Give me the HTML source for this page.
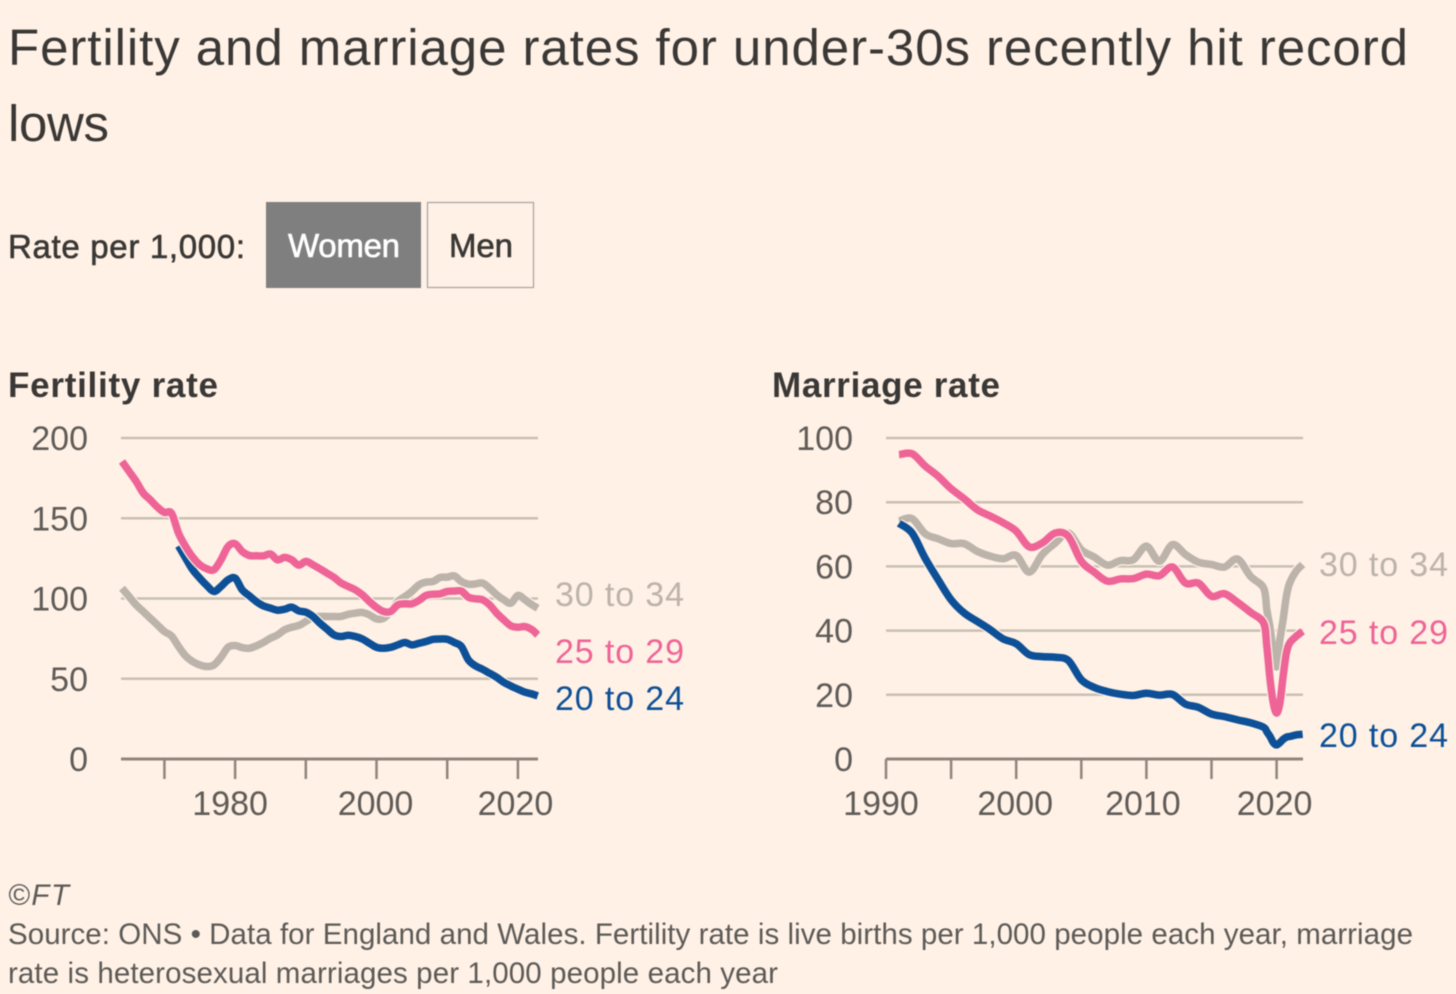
<!DOCTYPE html>
<html lang="en">
<head>
<meta charset="utf-8">
<title>Fertility and marriage rates</title>
<style>
html,body{margin:0;padding:0;background:#fff1e5;}
svg{display:block;font-family:"Liberation Sans",sans-serif;filter:blur(0.4px);}
.tick-label{font-size:34px;fill:#5f5b58;}
.series-label{font-size:34px;}
.line{fill:none;stroke-linejoin:round;stroke-linecap:butt;stroke-width:7.5;}
.halo{fill:none;stroke:#fff1e5;stroke-width:10;stroke-linejoin:round;}
</style>
</head>
<body>
<svg id="chart" width="1456" height="994" viewBox="0 0 1456 994" xmlns="http://www.w3.org/2000/svg">
<rect x="0" y="0" width="1456" height="994" fill="#fff1e5"/>
<g font-size="51" fill="#3a3836">
<text x="8" y="65" textLength="1400" lengthAdjust="spacing">Fertility and marriage rates for under-30s recently hit record</text>
<text x="8" y="141" textLength="101" lengthAdjust="spacing">lows</text>
</g>
<text x="8" y="258" font-size="33" fill="#3a3836" stroke="#3a3836" stroke-width="0.6" textLength="237" lengthAdjust="spacing">Rate per 1,000:</text>
<g>
<rect x="266" y="202" width="155" height="86" fill="#807f7f"/>
<text x="288" y="257" font-size="33" fill="#fff" stroke="#fff" stroke-width="0.6" textLength="112" lengthAdjust="spacing">Women</text>
</g>
<g>
<rect x="427.5" y="202.5" width="106" height="85" fill="none" stroke="#a5a3a1" stroke-width="1.2"/>
<text x="449" y="257" font-size="33" fill="#3a3836" stroke="#3a3836" stroke-width="0.6" textLength="64" lengthAdjust="spacing">Men</text>
</g>
<text x="8" y="397" font-size="35" font-weight="bold" fill="#3a3836" textLength="210" lengthAdjust="spacing">Fertility rate</text>
<text x="772" y="397" font-size="35" font-weight="bold" fill="#3a3836" textLength="228" lengthAdjust="spacing">Marriage rate</text>
<g id="fertility-panel"></g>
<g id="marriage-panel"></g>
<g font-size="29.5" fill="#5c5a58">
<text x="8" y="905" font-style="italic" textLength="61" lengthAdjust="spacing">©FT</text>
<text x="8" y="944" textLength="1405" lengthAdjust="spacing">Source: ONS • Data for England and Wales. Fertility rate is live births per 1,000 people each year, marriage</text>
<text x="8" y="983" textLength="770" lengthAdjust="spacing">rate is heterosexual marriages per 1,000 people each year</text>
</g>
</svg>
<script>
const fertilityYears = [1964,1965,1966,1967,1968,1969,1970,1971,1972,1973,1974,1975,1976,1977,1978,1979,1980,1981,1982,1983,1984,1985,1986,1987,1988,1989,1990,1991,1992,1993,1994,1995,1996,1997,1998,1999,2000,2001,2002,2003,2004,2005,2006,2007,2008,2009,2010,2011,2012,2013,2014,2015,2016,2017,2018,2019,2020,2021,2022,2022.8];
const fertility2529 = [185.4,179.2,173,165.7,161.5,157,153.6,153.2,140.7,132.4,125.8,121,118.5,117.9,124.1,132.4,134.1,129.3,126.8,126.6,126.6,127.7,124.1,125.6,124.1,120.8,123.1,121,118.5,115.8,113.1,109.6,107.5,105.4,102.3,98.1,94.4,91.9,91.9,96,96.7,96.7,98.8,101.9,102.7,102.9,104.4,104.6,104.6,100.8,99.8,99.2,96,90.9,86.7,83,82.1,82.5,80.5,77.3];
const fertility2024 = [null,null,null,null,null,null,null,null,132.8,125.2,117.9,112.7,108.1,104.4,107.5,111.6,112.7,105.4,101.7,98.1,95.4,94,92.7,93.3,94.6,92.3,91.5,88.8,84.6,80.9,77.3,76.3,77.1,76.3,74.8,72.1,69.6,69,69.6,71.1,72.6,71.1,72.1,73.2,74.6,74.8,74.6,72.6,70.1,61.7,58,55.9,53.4,50.9,47.8,45.5,43.5,41.6,40.5,39.3];
const fertility3034 = [106.4,101.2,96,91.9,87.7,83.6,79.4,76.7,70.1,64.2,60.7,58.6,57.6,58.6,63.4,69.6,70.7,69.4,69,70.5,72.6,75.3,77.3,80.5,82.1,83.2,85.7,88.4,88.8,88.8,88.8,88.8,90.2,90.9,91.3,89.8,87.3,87.7,91.9,98.1,101.2,104.4,108.5,110.2,110.6,113.1,113.3,114.1,110.6,108.9,109.1,109.6,106.4,102.3,99.2,97.1,101.9,99.2,96,94];
const fertilityYTicks = [0,50,100,150,200];
const fertilityXTicks = [1970,1980,1990,2000,2010,2020];
const fertilityXLabels = [1980,2000,2020];

const marriageYears = [1991,1992,1993,1994,1995,1996,1997,1998,1999,2000,2001,2002,2003,2004,2005,2006,2007,2008,2009,2010,2011,2012,2013,2014,2015,2016,2017,2018,2019,2019.25,2019.5,2019.75,2020,2020.25,2020.5,2020.75,2021,2021.5,2022];
const marriage2529 = [94.8,95.1,91.3,88.1,84.2,81.1,77.7,75.7,73.6,71,66.1,67.3,70.4,69.4,61.6,58.2,55.4,56.1,56.2,57.6,57.1,59.8,54.8,54.8,50.7,51.5,48.8,45.7,42.4,35.1,24.7,17.4,14.3,17.4,25.7,33,36.1,38.2,39.8];
const marriage2024 = [73.4,70.4,62.6,55.9,49.6,45.5,42.9,40.3,37.4,35.9,32.5,31.9,31.7,30.7,24.7,22.3,21,20.2,19.8,20.5,19.9,20.1,17.1,16.1,14,13.2,12.2,11.3,9.9,8.5,7,5.1,4.4,5.1,6.1,6.8,7,7.5,7.7];
const marriage3034 = [74.1,74.9,70.2,68.6,67.1,67.1,64.7,63.2,62.4,63.4,58.2,63.7,67.3,70.4,65.2,62.9,60.4,61.8,62.1,66.3,61.6,66.8,63.7,61.3,60.6,59.8,62.3,56.9,53.3,46.5,40.8,33,28.8,37.1,43.4,50.7,54.8,58.5,60.6];
const marriageYTicks = [0,20,40,60,80,100];
const marriageXTicks = [1990,1995,2000,2005,2010,2015,2020];
const marriageXLabels = [1990,2000,2010,2020];

const SVG_NS = 'http://www.w3.org/2000/svg';
const COLORS = {gray:'#bcb3aa', pink:'#ee6497', blue:'#0d5097'};

function make(tag, parent, attrs) {
  const el = document.createElementNS(SVG_NS, tag);
  for (const k in attrs) el.setAttribute(k, attrs[k]);
  parent.appendChild(el);
  return el;
}

function linePath(years, values, xFn, yFn) {
  const pts = [];
  values.forEach(function (v, i) {
    if (v !== null) pts.push([xFn(years[i]), yFn(v)]);
  });
  let d = 'M' + pts[0][0].toFixed(2) + ' ' + pts[0][1].toFixed(2);
  for (let i = 0; i < pts.length - 1; i++) {
    const p0 = pts[Math.max(i - 1, 0)];
    const p1 = pts[i];
    const p2 = pts[i + 1];
    const p3 = pts[Math.min(i + 2, pts.length - 1)];
    const c1x = p1[0] + (p2[0] - p0[0]) / 6;
    const c1y = p1[1] + (p2[1] - p0[1]) / 6;
    const c2x = p2[0] - (p3[0] - p1[0]) / 6;
    const c2y = p2[1] - (p3[1] - p1[1]) / 6;
    d += 'C' + c1x.toFixed(2) + ' ' + c1y.toFixed(2) + ' ' + c2x.toFixed(2) + ' ' + c2y.toFixed(2) + ' ' + p2[0].toFixed(2) + ' ' + p2[1].toFixed(2);
  }
  return d;
}

function drawPanel(opts) {
  const g = document.getElementById(opts.id);
  const xFn = function (v) { return opts.x0 + (v - opts.year0) * opts.pxPerYear; };
  const yFn = function (v) { return 759 - (v / opts.yMax) * 321; };

  opts.yTicks.forEach(function (t) {
    if (t !== 0) {
      const grid = make('line', g, {x1: opts.gridX0, x2: opts.gridX1, y1: yFn(t), y2: yFn(t), stroke: '#cabfb3', 'stroke-width': 2.5});
      
      
    }
    const lab = make('text', g, {x: opts.yLabelX, y: yFn(t) + 12, 'text-anchor': 'end', class: 'tick-label'});
    lab.textContent = t;
    
    
  });

  const axis = make('line', g, {x1: opts.gridX0, x2: opts.gridX1, y1: 759, y2: 759, stroke: '#8f857c', 'stroke-width': 3});
  
  

  opts.xTicks.forEach(function (t) {
    const tick = make('line', g, {x1: xFn(t), x2: xFn(t), y1: 759, y2: 779, stroke: '#8f857c', 'stroke-width': 2.5});
    
    
  });
  opts.xLabels.forEach(function (t) {
    const nudge = opts.labelNudge[t] || 0;
    const lab = make('text', g, {x: xFn(t) + nudge, y: 815, 'text-anchor': 'middle', class: 'tick-label'});
    lab.textContent = t;
    
    
  });

  opts.series.forEach(function (s) {
    const d = linePath(opts.years, s.values, xFn, yFn);
    const halo = make('path', g, {d: d, class: 'halo'});
    
    
    const line = make('path', g, {d: d, class: 'line', stroke: s.color});
    
    
    const lab = make('text', g, {x: opts.labelX, y: s.labelY, class: 'series-label', fill: s.color, textLength: 129, lengthAdjust: 'spacing'});
    lab.textContent = s.label;
    
    
  });
}

drawPanel({
  id: 'fertility-panel', x0: 122, year0: 1964, pxPerYear: 7.07, yMax: 200,
  gridX0: 121, gridX1: 538, yLabelX: 88, labelX: 555, labelNudge: {1980: -5, 2000: -1, 2020: -2.5},
  yTicks: fertilityYTicks, xTicks: fertilityXTicks, xLabels: fertilityXLabels, years: fertilityYears,
  series: [
    {key: '30-to-34', label: '30 to 34', values: fertility3034, color: COLORS.gray, labelY: 606},
    {key: '20-to-24', label: '20 to 24', values: fertility2024, color: COLORS.blue, labelY: 710},
    {key: '25-to-29', label: '25 to 29', values: fertility2529, color: COLORS.pink, labelY: 663}
  ]
});

drawPanel({
  id: 'marriage-panel', x0: 886, year0: 1990, pxPerYear: 13.02, yMax: 100,
  gridX0: 886, gridX1: 1303, yLabelX: 853, labelX: 1319, labelNudge: {1990: -5, 2000: -1, 2010: -3.5, 2020: -2},
  yTicks: marriageYTicks, xTicks: marriageXTicks, xLabels: marriageXLabels, years: marriageYears,
  series: [
    {key: '30-to-34', label: '30 to 34', values: marriage3034, color: COLORS.gray, labelY: 576},
    {key: '20-to-24', label: '20 to 24', values: marriage2024, color: COLORS.blue, labelY: 747},
    {key: '25-to-29', label: '25 to 29', values: marriage2529, color: COLORS.pink, labelY: 644}
  ]
});
</script>
</body>
</html>
